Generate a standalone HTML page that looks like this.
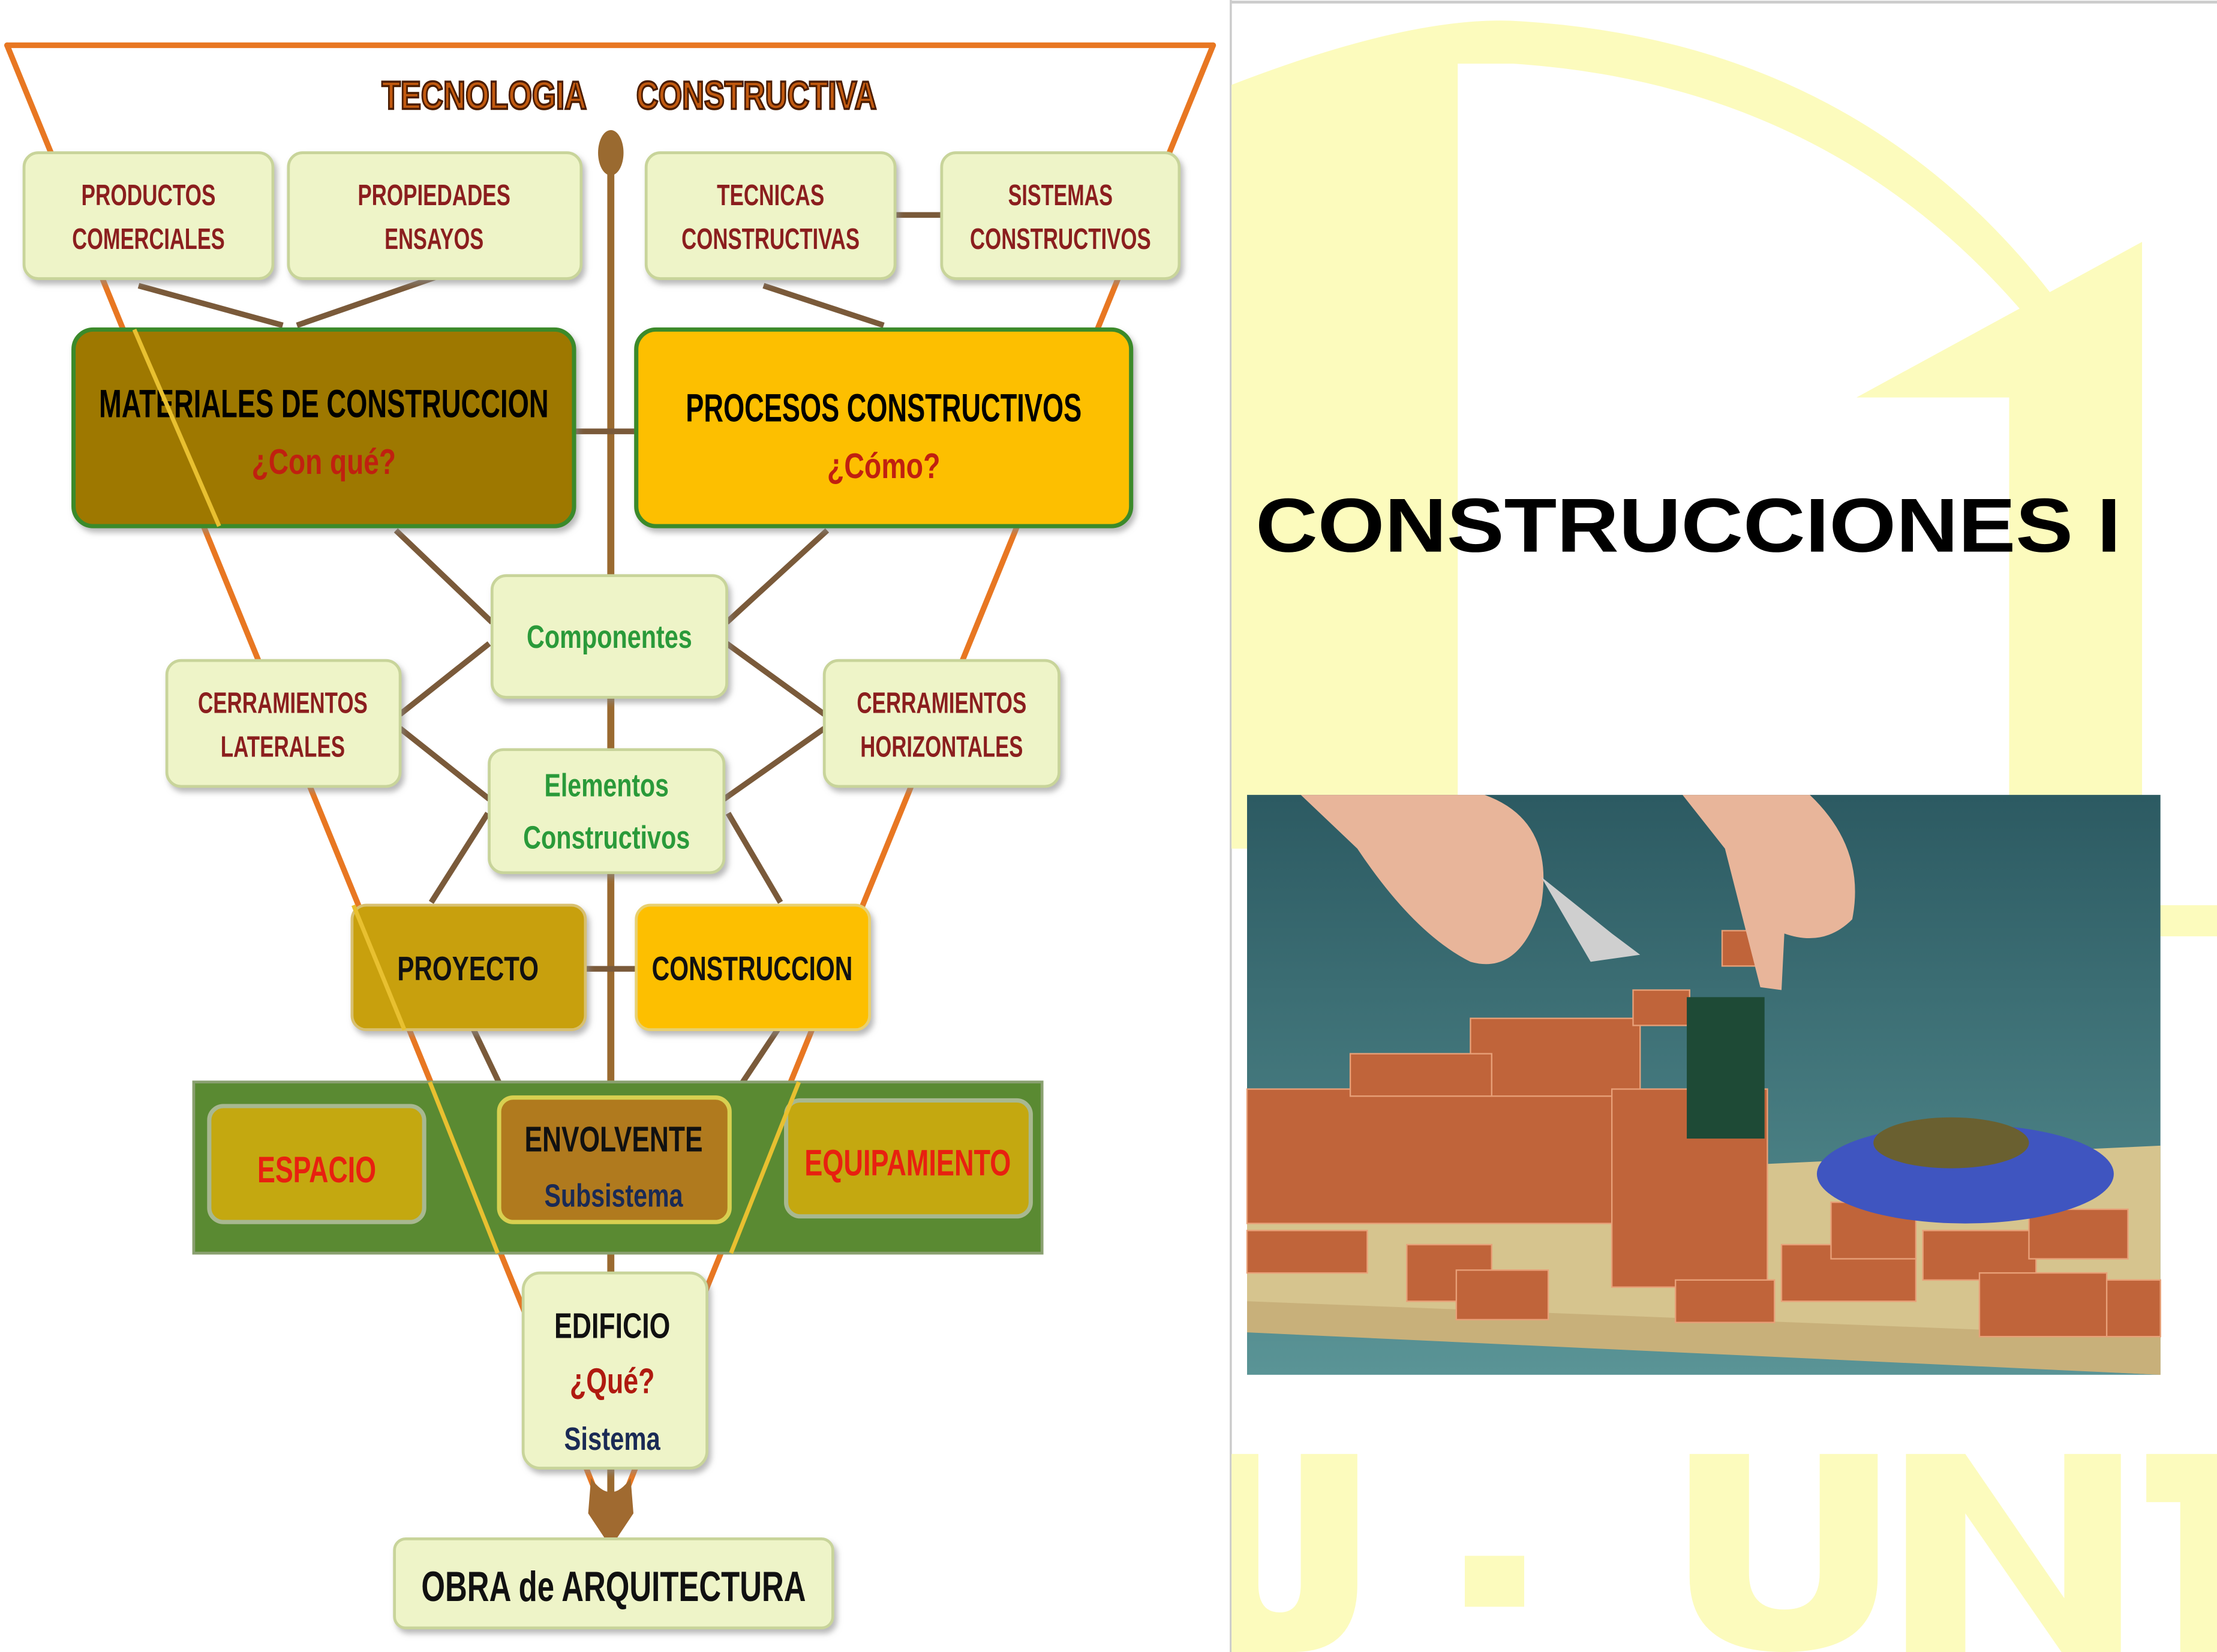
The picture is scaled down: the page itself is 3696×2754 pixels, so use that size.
<!DOCTYPE html>
<html><head><meta charset="utf-8"><style>
html,body{margin:0;padding:0;background:#fff;}
svg{display:block;}
text{font-family:"Liberation Sans Narrow","Liberation Sans",sans-serif;font-weight:bold;}
</style></head><body>
<svg width="3696" height="2754" viewBox="0 0 1568 1168" preserveAspectRatio="none" xmlns="http://www.w3.org/2000/svg">
<defs>
<linearGradient id="sky" x1="0" y1="0" x2="0" y2="1"><stop offset="0" stop-color="#2c5a62"/><stop offset="1" stop-color="#5a9496"/></linearGradient>
<filter id="sh" x="-10%" y="-10%" width="130%" height="130%"><feDropShadow dx="2" dy="3" stdDeviation="2" flood-color="#888" flood-opacity="0.6"/></filter>
</defs>
<rect width="1568" height="1168" fill="#fff"/>
<!-- RIGHT PANEL -->
<line x1="870.5" y1="0" x2="870.5" y2="1168" stroke="#ccc" stroke-width="1.5"/>
<line x1="870" y1="1.5" x2="1568" y2="1.5" stroke="#ccc" stroke-width="2"/>
<path d="M871 60 Q1000 10 1075 15 Q1320 30 1460 220 L1440 232 Q1300 60 1070 45 L1031 45 L1031 600 L871 600 Z" fill="#fcfbbd"/>
<path d="M1313 281 L1515 171 L1515 600 L1421 600 L1421 281 Z" fill="#fcfbbd"/>
<rect x="1515" y="640" width="53" height="22" fill="#fcfbbd"/>
<text x="888" y="390" font-size="54" fill="#000" textLength="612" lengthAdjust="spacingAndGlyphs" style="font-family:'Liberation Sans',sans-serif">CONSTRUCCIONES I</text>
<!-- photo -->
<rect x="882" y="562" width="646" height="410" fill="url(#sky)"/>
<path d="M882 840 L1528 810 L1528 972 L882 940 Z" fill="#d6c48e"/>
<path d="M882 920 L1528 945 L1528 972 L882 942 Z" fill="#c8b07a"/>
<g fill="#c0643a" stroke="#e8a078" stroke-width="1">
<rect x="882" y="770" width="260" height="95"/>
<rect x="1040" y="720" width="120" height="55"/>
<rect x="955" y="745" width="100" height="30"/>
<rect x="1155" y="700" width="40" height="25"/>
<rect x="1140" y="770" width="110" height="140"/>
<rect x="882" y="870" width="85" height="30"/>
<rect x="995" y="880" width="60" height="40"/>
<rect x="1030" y="898" width="65" height="35"/>
<rect x="1185" y="905" width="70" height="30"/>
<rect x="1260" y="880" width="95" height="40"/>
<rect x="1295" y="850" width="60" height="40"/>
<rect x="1360" y="870" width="80" height="35"/>
<rect x="1400" y="900" width="90" height="45"/>
<rect x="1435" y="855" width="70" height="35"/>
<rect x="1490" y="905" width="38" height="40"/>
<rect x="1218" y="658" width="30" height="25"/>
</g>
<rect x="1193" y="705" width="55" height="100" fill="#1e4a36"/>
<ellipse cx="1390" cy="830" rx="105" ry="35" fill="#3f55c0"/>
<ellipse cx="1380" cy="808" rx="55" ry="18" fill="#6a6030"/>
<path d="M920 562 L1050 562 Q1100 580 1090 640 Q1075 690 1040 680 Q1000 660 960 600 Z" fill="#e8b59a"/>
<path d="M1190 562 L1280 562 Q1320 600 1310 650 Q1290 670 1262 660 L1260 700 L1245 698 L1220 600 Z" fill="#e8b59a"/>
<path d="M1090 620 L1140 660 L1160 675 L1125 680 Z" fill="#cfcfcf"/>
<!-- U - UNT -->
<g fill="#fcfbbd">
<path d="M871 1028 L890 1028 L890 1120 Q890 1140 905 1140 Q920 1140 920 1120 L920 1028 L960 1028 L960 1120 Q960 1168 915 1168 L871 1168 Z"/>
<rect x="1036" y="1100" width="42" height="36"/>
<path d="M1195 1028 L1237 1028 L1237 1112 Q1237 1138 1262 1138 Q1287 1138 1287 1112 L1287 1028 L1328 1028 L1328 1115 Q1328 1168 1262 1168 Q1195 1168 1195 1115 Z"/>
<path d="M1348 1028 L1390 1028 L1460 1130 L1460 1028 L1500 1028 L1500 1168 L1458 1168 L1390 1070 L1390 1168 L1348 1168 Z"/>
<path d="M1518 1028 L1568 1028 L1568 1168 L1542 1168 L1542 1062 L1518 1062 Z"/>
</g>
<!-- LEFT DIAGRAM -->
<g stroke="#e87722" stroke-width="4" fill="none" stroke-linecap="round">
<polyline points="5,32 858,32"/>
<polyline points="5,32 370,925 432,1082"/>
<polyline points="858,32 494,925 432,1082"/>
</g>
<text x="270" y="77" font-size="28" fill="#c25a10" stroke="#4a1c00" stroke-width="1.5" textLength="145" lengthAdjust="spacingAndGlyphs">TECNOLOGIA</text>
<text x="450" y="77" font-size="28" fill="#c25a10" stroke="#4a1c00" stroke-width="1.5" textLength="170" lengthAdjust="spacingAndGlyphs">CONSTRUCTIVA</text>
<line x1="432" y1="100" x2="432" y2="1070" stroke="#9a6a30" stroke-width="5"/>
<ellipse cx="432" cy="108" rx="9" ry="16" fill="#9a6a30"/>
<path d="M418 1045 Q432 1065 446 1045 L448 1070 L436 1088 L428 1088 L416 1070 Z" fill="#a06a30"/>
<g stroke="#7a5a3a" stroke-width="4" fill="#9a6a30">
<line x1="98" y1="202" x2="200" y2="230"/>
<line x1="308" y1="196" x2="210" y2="230"/>
<line x1="540" y1="202" x2="625" y2="230"/>
<line x1="634" y1="152" x2="666" y2="152"/>
<line x1="406" y1="305" x2="450" y2="305"/>
<line x1="280" y1="375" x2="348" y2="440"/>
<line x1="585" y1="375" x2="514" y2="440"/>
<line x1="283" y1="505" x2="346" y2="455"/>
<line x1="583" y1="505" x2="514" y2="455"/>
<line x1="283" y1="515" x2="346" y2="565"/>
<line x1="583" y1="515" x2="512" y2="565"/>
<line x1="345" y1="575" x2="305" y2="638"/>
<line x1="515" y1="575" x2="552" y2="638"/>
<line x1="414" y1="685" x2="450" y2="685"/>
<line x1="335" y1="728" x2="358" y2="776"/>
<line x1="550" y1="728" x2="518" y2="776"/>
</g>
<g fill="#eef4c8" stroke="#c8d49a" stroke-width="2" filter="url(#sh)">
<rect x="17" y="108" width="176" height="89" rx="10"/>
<rect x="204" y="108" width="207" height="89" rx="10"/>
<rect x="457" y="108" width="176" height="89" rx="10"/>
<rect x="666" y="108" width="168" height="89" rx="10"/>
</g>
<g font-size="21" fill="#8b1e1e" text-anchor="middle" lengthAdjust="spacingAndGlyphs">
<text x="105" y="145" textLength="95" lengthAdjust="spacingAndGlyphs">PRODUCTOS</text><text x="105" y="176" textLength="108" lengthAdjust="spacingAndGlyphs">COMERCIALES</text>
<text x="307" y="145" textLength="108" lengthAdjust="spacingAndGlyphs">PROPIEDADES</text><text x="307" y="176" textLength="70" lengthAdjust="spacingAndGlyphs">ENSAYOS</text>
<text x="545" y="145" textLength="76" lengthAdjust="spacingAndGlyphs">TECNICAS</text><text x="545" y="176" textLength="126" lengthAdjust="spacingAndGlyphs">CONSTRUCTIVAS</text>
<text x="750" y="145" textLength="74" lengthAdjust="spacingAndGlyphs">SISTEMAS</text><text x="750" y="176" textLength="128" lengthAdjust="spacingAndGlyphs">CONSTRUCTIVOS</text>
</g>
<rect x="52" y="233" width="354" height="139" rx="14" fill="#9e7800" stroke="#3a8a2a" stroke-width="3" filter="url(#sh)"/>
<rect x="450" y="233" width="350" height="139" rx="14" fill="#fdbf00" stroke="#3a8a2a" stroke-width="3" filter="url(#sh)"/>
<text x="229" y="295" font-size="28" fill="#000" text-anchor="middle" textLength="318" lengthAdjust="spacingAndGlyphs">MATERIALES  DE CONSTRUCCION</text>
<text x="229" y="335" font-size="25" fill="#c02010" text-anchor="middle" textLength="102" lengthAdjust="spacingAndGlyphs">¿Con qué?</text>
<text x="625" y="298" font-size="28" fill="#000" text-anchor="middle" textLength="280" lengthAdjust="spacingAndGlyphs">PROCESOS  CONSTRUCTIVOS</text>
<text x="625" y="338" font-size="25" fill="#c02010" text-anchor="middle" textLength="80" lengthAdjust="spacingAndGlyphs">¿Cómo?</text>
<line x1="95" y1="233" x2="155" y2="372" stroke="#e8c030" stroke-width="3"/>
<g fill="#eef4c8" stroke="#c8d49a" stroke-width="2" filter="url(#sh)">
<rect x="348" y="407" width="166" height="86" rx="10"/>
<rect x="118" y="467" width="165" height="89" rx="10"/>
<rect x="583" y="467" width="166" height="89" rx="10"/>
<rect x="346" y="530" width="166" height="87" rx="10"/>
<rect x="370" y="900" width="130" height="138" rx="12"/>
<rect x="279" y="1088" width="310" height="63" rx="8"/>
</g>
<text x="431" y="458" font-size="23" fill="#2a9a3a" text-anchor="middle" textLength="117" lengthAdjust="spacingAndGlyphs">Componentes</text>
<text x="429" y="563" font-size="23" fill="#2a9a3a" text-anchor="middle" textLength="88" lengthAdjust="spacingAndGlyphs">Elementos</text>
<text x="429" y="600" font-size="23" fill="#2a9a3a" text-anchor="middle" textLength="118" lengthAdjust="spacingAndGlyphs">Constructivos</text>
<g font-size="21" fill="#8b1e1e" text-anchor="middle">
<text x="200" y="504" textLength="120" lengthAdjust="spacingAndGlyphs">CERRAMIENTOS</text><text x="200" y="535" textLength="88" lengthAdjust="spacingAndGlyphs">LATERALES</text>
<text x="666" y="504" textLength="120" lengthAdjust="spacingAndGlyphs">CERRAMIENTOS</text><text x="666" y="535" textLength="115" lengthAdjust="spacingAndGlyphs">HORIZONTALES</text>
</g>
<rect x="249" y="640" width="165" height="88" rx="10" fill="#c8a00c" stroke="#d8c070" stroke-width="2" filter="url(#sh)"/>
<rect x="450" y="640" width="165" height="88" rx="10" fill="#fdbf00" stroke="#e8d070" stroke-width="2" filter="url(#sh)"/>
<text x="331" y="693" font-size="24" fill="#111" text-anchor="middle" textLength="100" lengthAdjust="spacingAndGlyphs">PROYECTO</text>
<text x="532" y="693" font-size="24" fill="#111" text-anchor="middle" textLength="142" lengthAdjust="spacingAndGlyphs">CONSTRUCCION</text>
<line x1="250" y1="640" x2="286" y2="728" stroke="#e8c030" stroke-width="3"/>
<rect x="137" y="765" width="600" height="121" fill="#5a8a32" stroke="#8aa070" stroke-width="2"/>
<rect x="148" y="782" width="152" height="82" rx="10" fill="#c4a810" stroke="#a8b890" stroke-width="3"/>
<rect x="353" y="776" width="163" height="88" rx="10" fill="#b07a1e" stroke="#d8d050" stroke-width="3"/>
<rect x="556" y="778" width="173" height="82" rx="10" fill="#c4a810" stroke="#a8b890" stroke-width="3"/>
<text x="224" y="836" font-size="26" fill="#e82010" text-anchor="middle" textLength="84" lengthAdjust="spacingAndGlyphs">ESPACIO</text>
<text x="434" y="814" font-size="25" fill="#111" text-anchor="middle" textLength="126" lengthAdjust="spacingAndGlyphs">ENVOLVENTE</text>
<text x="434" y="853" font-size="23" fill="#1a2a55" text-anchor="middle" textLength="98" lengthAdjust="spacingAndGlyphs">Subsistema</text>
<text x="642" y="831" font-size="26" fill="#e82010" text-anchor="middle" textLength="146" lengthAdjust="spacingAndGlyphs">EQUIPAMIENTO</text>
<g stroke="#e8c030" stroke-width="3">
<line x1="304" y1="765" x2="352" y2="886"/>
<line x1="565" y1="765" x2="517" y2="886"/>
</g>
<text x="433" y="946" font-size="25" fill="#111" text-anchor="middle" textLength="82" lengthAdjust="spacingAndGlyphs">EDIFICIO</text>
<text x="433" y="985" font-size="25" fill="#b01a10" text-anchor="middle" textLength="60" lengthAdjust="spacingAndGlyphs">¿Qué?</text>
<text x="433" y="1025" font-size="23" fill="#1a2a55" text-anchor="middle" textLength="68" lengthAdjust="spacingAndGlyphs">Sistema</text>
<text x="434" y="1132" font-size="30" fill="#111" text-anchor="middle" textLength="272" lengthAdjust="spacingAndGlyphs">OBRA de ARQUITECTURA</text>
</svg>
</body></html>
